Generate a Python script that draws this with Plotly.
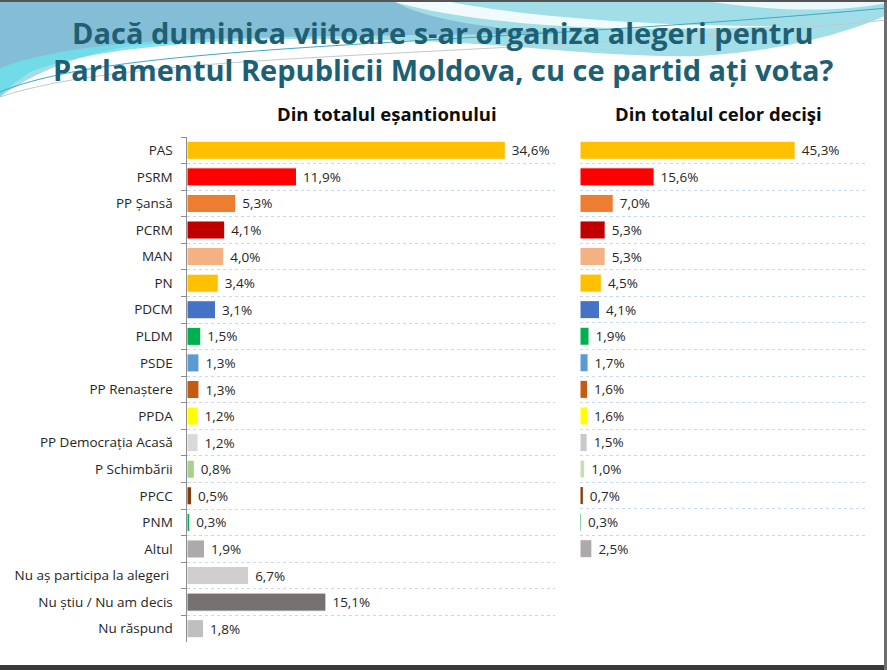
import plotly.graph_objects as go

# --- data ---
parties = ["PAS", "PSRM", "PP Șansă", "PCRM", "MAN", "PN", "PDCM", "PLDM", "PSDE",
           "PP Renaștere", "PPDA", "PP Democrația Acasă", "P Schimbării", "PPCC",
           "PNM", "Altul", "Nu aș participa la alegeri ", "Nu știu / Nu am decis",
           "Nu răspund"]
sample_pct = [34.6, 11.9, 5.3, 4.1, 4.0, 3.4, 3.1, 1.5, 1.3, 1.3, 1.2, 1.2, 0.8,
              0.5, 0.3, 1.9, 6.7, 15.1, 1.8]
decided_parties = parties[:16]
decided_pct = [45.3, 15.6, 7.0, 5.3, 5.3, 4.5, 4.1, 1.9, 1.7, 1.6, 1.6, 1.5, 1.0,
               0.7, 0.3, 2.5]
bar_colors = ["#FFC000", "#FF0000", "#ED7D31", "#C00000", "#F4B183", "#FFC000",
              "#4472C4", "#00B050", "#5B9BD5", "#C55A11", "#FFFF00", "#D9D9D9",
              "#A9D18E", "#843C0C", "#00B050", "#AEAAAA", "#D0CECE", "#767171",
              "#BFBFBF"]
decided_colors = bar_colors[:11] + ["#C9C9C9", "#C5E0B4"] + bar_colors[13:16]

title_lines = ["Dacă duminica viitoare s-ar organiza alegeri pentru",
               "Parlamentul Republicii Moldova, cu ce partid ați vota?"]
panel_titles = ["Din totalul eșantionului", "Din totalul celor decişi"]

W, H = 887, 670
FONT = "Open Sans"


def px(x):
    return x / W


def py(y):
    return 1 - y / H


def fmt(v):
    return " " + f"{v:.1f}%".replace(".", ",")


fig = go.Figure()

fig.add_trace(go.Bar(
    y=parties, x=sample_pct, orientation="h",
    marker=dict(color=bar_colors, line=dict(color="white", width=1)),
    text=[fmt(v) for v in sample_pct], textposition="outside", cliponaxis=False,
    textfont=dict(family=FONT, size=13.5, color="#262626"),
    xaxis="x", yaxis="y", showlegend=False, hoverinfo="skip"
))

fig.add_trace(go.Bar(
    y=decided_parties, x=decided_pct, orientation="h",
    marker=dict(color=decided_colors, line=dict(color="white", width=1)),
    text=[fmt(v) for v in decided_pct], textposition="outside", cliponaxis=False,
    textfont=dict(family=FONT, size=13.5, color="#262626"),
    xaxis="x2", yaxis="y2", showlegend=False, hoverinfo="skip"
))

grid = dict(showgrid=True, gridcolor="#C6D9F0", griddash="dot", gridwidth=1,
            tickson="boundaries", type="category", autorange="reversed")

fig.update_layout(
    width=W, height=H,
    margin=dict(l=0, r=0, t=0, b=0),
    paper_bgcolor="white", plot_bgcolor="rgba(0,0,0,0)",
    bargap=0.32,
    font=dict(family=FONT, color="#262626"),
    xaxis=dict(domain=[px(187), px(555)], range=[0, 40], visible=False),
    yaxis=dict(domain=[py(642), py(137)], anchor="x",
               showline=True, linecolor="#8C8C8C", linewidth=1,
               ticks="outside", ticklen=5, tickcolor="#8C8C8C",
               tickfont=dict(family=FONT, size=13.5, color="#262626"),
               ticksuffix="   ", **grid),
    xaxis2=dict(domain=[px(580), px(865)], range=[0, 60], visible=False,
                anchor="y2"),
    yaxis2=dict(domain=[py(562), py(137)], anchor="x2",
                showline=False, showticklabels=False, ticks="", **grid),
)


def p(*pts):
    # pixel pairs -> "x,y" in paper units
    return [f"{px(a)},{py(b)}" for a, b in pts]


# decorative swoosh at the top of the slide
band = ("M {} L {} L {} C {} {} {} C {} {} {} C {} {} {} C {} {} {} Z").format(
    *p((0, 0), (887, 0), (887, 15),
       (850, 32), (780, 52), (700, 56),
       (600, 58), (500, 42), (390, 40),
       (250, 38), (180, 40), (140, 45),
       (80, 52), (30, 75), (0, 97)))
steel = ("M {} L {} C {} {} {} C {} {} {} C {} {} {} Z").format(
    *p((0, 0), (392, 0),
       (420, 18), (480, 28), (560, 33),
       (400, 36), (200, 36), (120, 44),
       (60, 50), (20, 60), (0, 68)))
streak = ("M {} L {} C {} {} {} C {} {} {} Z").format(
    *p((388, 0), (440, 0),
       (520, 16), (640, 26), (780, 26),
       (640, 33), (480, 28), (388, 0)))
corner = ("M {} C {} {} {} L {} Z").format(
    *p((700, 0), (760, 10), (830, 14), (887, 3), (887, 0)))
line1 = ("M {} C {} {} {}").format(*p((0, 92), (120, 42), (450, 48), (887, 8)))
line2 = ("M {} C {} {} {}").format(*p((0, 97), (140, 50), (480, 60), (887, 20)))

shapes = [
    dict(type="path", xref="paper", yref="paper", layer="below", line=dict(width=0),
         fillcolor="#A2DEE8", path=band),
    dict(type="path", xref="paper", yref="paper", layer="below", line=dict(width=0),
         fillcolor="rgba(98,218,232,0.75)",
         path=("M {} C {} {} {} C {} {} {} C {} {} {} Z").format(
             *p((0, 40), (60, 42), (150, 40), (300, 40),
                (180, 40), (80, 52), (30, 72),
                (15, 82), (5, 90), (0, 97)))),
    dict(type="path", xref="paper", yref="paper", layer="below", line=dict(width=0),
         fillcolor="#84BDD6", path=steel),
    dict(type="path", xref="paper", yref="paper", layer="below", line=dict(width=0),
         fillcolor="rgba(255,255,255,0.85)", path=streak),
    dict(type="path", xref="paper", yref="paper", layer="below", line=dict(width=0),
         fillcolor="rgba(255,255,255,0.8)", path=corner),
    dict(type="path", xref="paper", yref="paper", layer="below",
         line=dict(color="#3FA9C2", width=1), path=line1),
    dict(type="path", xref="paper", yref="paper", layer="below",
         line=dict(color="#C3C9CC", width=1), path=line2),
    # slide frame edges
    dict(type="rect", xref="paper", yref="paper", x0=0, x1=1, y0=py(670), y1=py(665),
         fillcolor="#3A3A3A", line=dict(width=0)),
    dict(type="rect", xref="paper", yref="paper", x0=px(884), x1=1, y0=0, y1=1,
         fillcolor="#6E6E6E", line=dict(width=0)),
    dict(type="rect", xref="paper", yref="paper", x0=0, x1=1, y0=py(2), y1=1,
         fillcolor="#555555", line=dict(width=0)),
]
fig.update_layout(shapes=shapes)

annotations = [
    dict(text=f"<b>{title_lines[0]}</b>", x=px(443), y=py(32)),
    dict(text=f"<b>{title_lines[1]}</b>", x=px(443), y=py(70)),
]
for a in annotations:
    a.update(xref="paper", yref="paper", showarrow=False, xanchor="center",
             yanchor="middle", font=dict(family=FONT, size=29, color="#1D6074"))
panel_ann = [
    dict(text=f"<b>{panel_titles[0]}</b>", x=px(387), y=py(113)),
    dict(text=f"<b>{panel_titles[1]}</b>", x=px(718), y=py(113)),
]
for a in panel_ann:
    a.update(xref="paper", yref="paper", showarrow=False, xanchor="center",
             yanchor="middle", font=dict(family=FONT, size=18.5, color="#0D0D0D"))
fig.update_layout(annotations=annotations + panel_ann)

fig.write_html("out.html", config={"displayModeBar": False},
               post_script="document.body.style.margin='0px';")
